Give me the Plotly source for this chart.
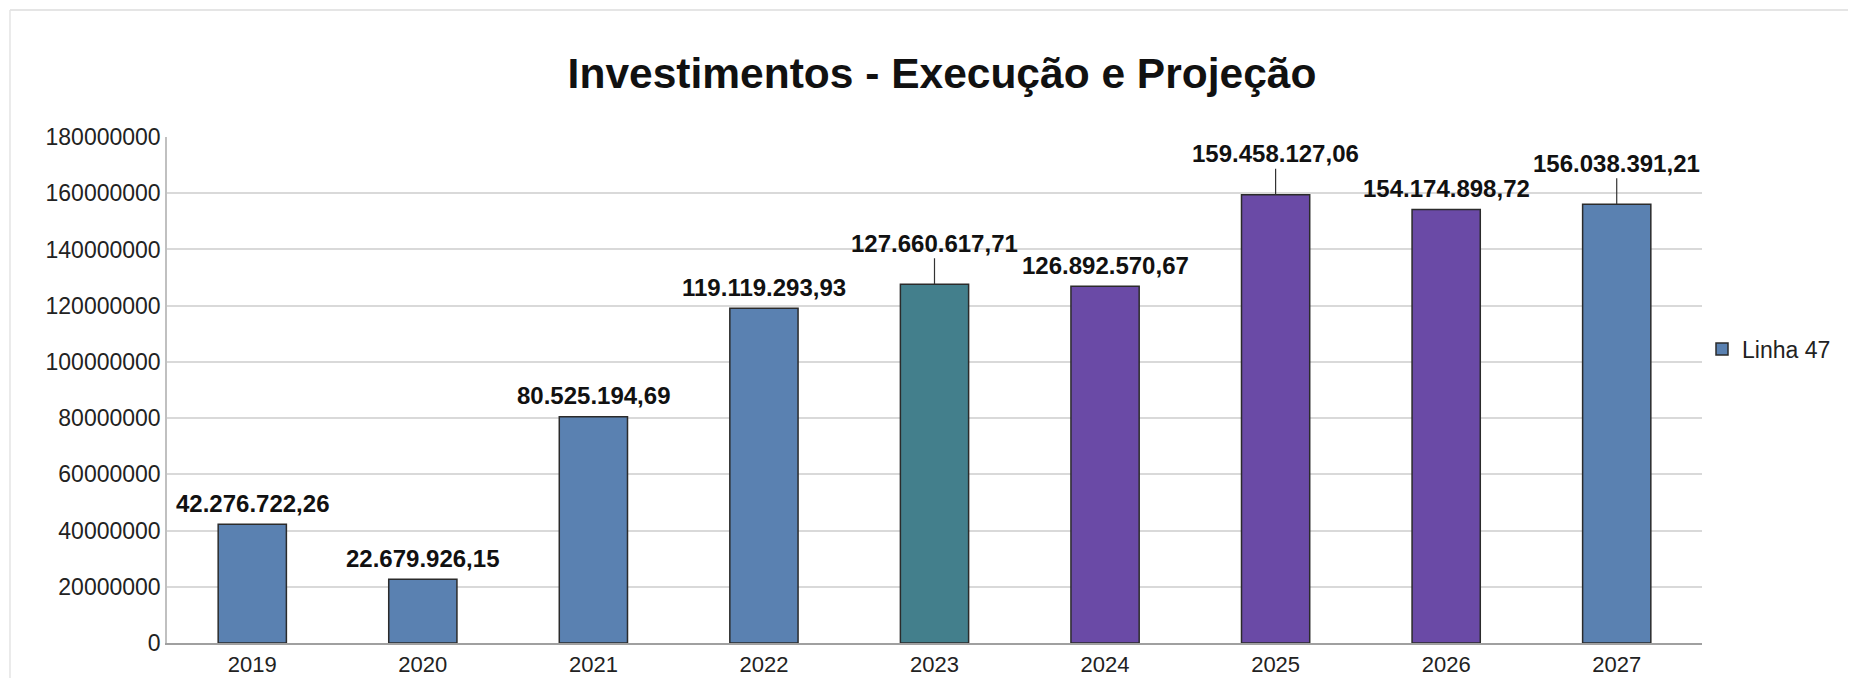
import plotly.graph_objects as go

# dados do gráfico
anos = ["2019", "2020", "2021", "2022", "2023", "2024", "2025", "2026", "2027"]
valores = [42276722.26, 22679926.15, 80525194.69, 119119293.93, 127660617.71,
           126892570.67, 159458127.06, 154174898.72, 156038391.21]
y_ticks = [0, 20000000, 40000000, 60000000, 80000000, 100000000,
           120000000, 140000000, 160000000, 180000000]

# estilo
AZUL = "#5a81b1"
VERDE = "#437f8c"
ROXO = "#6a4aa6"
cores = [AZUL, AZUL, AZUL, AZUL, VERDE, ROXO, ROXO, ROXO, AZUL]
com_linha = [False, False, False, False, True, False, True, False, True]
FONTE = "Liberation Sans, Arial, sans-serif"
W, H = 1840, 670  # cabe na janela junto com a margem de 8px do body


def formata_br(v):
    s = f"{v:,.2f}"
    return s.replace(",", "X").replace(".", ",").replace("X", ".")


fig = go.Figure()

fig.add_trace(go.Bar(x=anos, y=valores, name="Linha 47", width=0.4,
                     marker=dict(color=cores, line=dict(color="#2b2b2b", width=1.5)),
                     showlegend=True))

# rótulos de valores (eixo de categorias: posição pelo índice da categoria)
for i, (v, linha) in enumerate(zip(valores, com_linha)):
    if linha:
        fig.add_annotation(x=i, y=v, text=formata_br(v), showarrow=True,
                           arrowhead=0, arrowwidth=1.2, arrowcolor="#333333",
                           ax=0, ay=-41, standoff=0,
                           font=dict(family=FONTE, size=24, color="#111111", weight="bold"))
    else:
        fig.add_annotation(x=i, y=v, text=formata_br(v), showarrow=False,
                           yanchor="middle", yshift=21,
                           font=dict(family=FONTE, size=24, color="#111111", weight="bold"))

# moldura da captura de tela
fig.add_shape(type="line", xref="paper", yref="paper", x0=-0.1023, x1=1.2,
              y0=1.251, y1=1.251, line=dict(color="#dddddd", width=1.5))
fig.add_shape(type="line", xref="paper", yref="paper", x0=-0.1023, x1=-0.1023,
              y0=1.251, y1=-0.2, line=dict(color="#e4e4e4", width=1.5))

fig.update_layout(
    width=W, height=H,
    margin=dict(l=159, r=146, t=129, b=35),
    paper_bgcolor="white", plot_bgcolor="white",
    font=dict(family=FONTE, size=23, color="#222222"),
    title=dict(text="Investimentos - Execução e Projeção", x=934 / W, xanchor="center",
               xref="container", yref="container", y=1 - 65 / H, yanchor="middle",
               font=dict(family=FONTE, size=42.5, color="#111111", weight="bold")),
    legend=dict(x=1.0, xanchor="left", xref="paper", y=0.581, yanchor="middle",
                font=dict(family=FONTE, size=23, color="#222222"),
                bgcolor="rgba(0,0,0,0)"),
)

fig.update_xaxes(type="category", range=[-0.5, len(anos) - 0.5], showgrid=False,
                 showline=True, linecolor="#a0a0a0", linewidth=1.5, ticks="",
                 automargin=False, ticklabelstandoff=1,
                 tickfont=dict(size=22, color="#222222"))
fig.update_yaxes(range=[0, 180000000], tickvals=y_ticks, tickformat="d",
                 showgrid=True, gridcolor="#d9d9d9", gridwidth=1.5,
                 showline=True, linecolor="#c0c0c0", linewidth=1.5,
                 zeroline=False, ticks="", automargin=False,
                 tickfont=dict(size=23, color="#222222"))

fig.write_html("out.html")
